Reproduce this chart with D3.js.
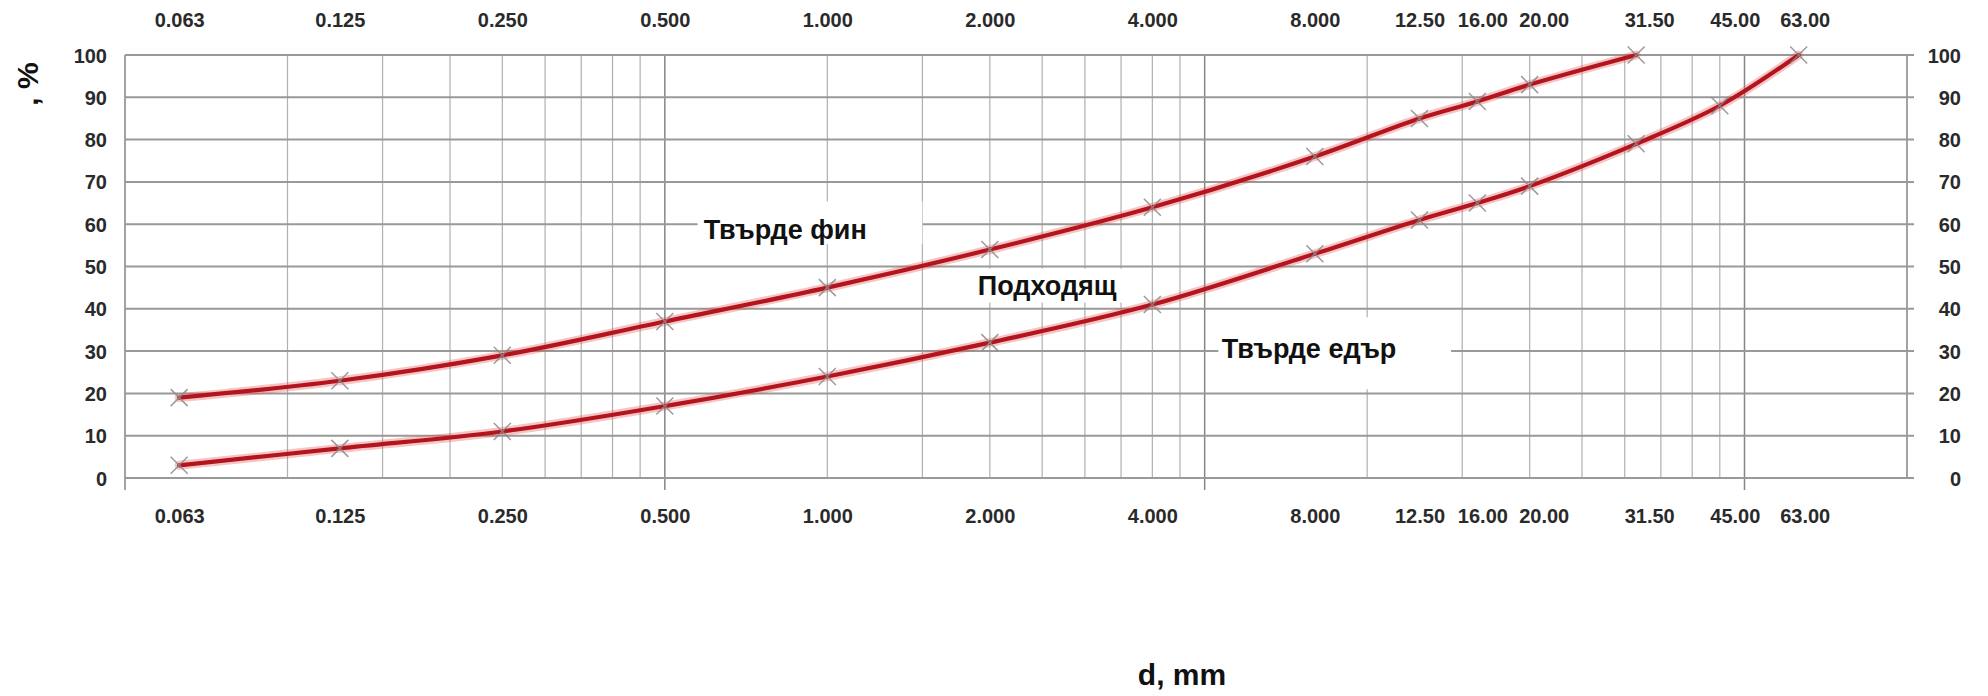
<!DOCTYPE html>
<html>
<head>
<meta charset="utf-8">
<script src="https://cdn.jsdelivr.net/npm/d3@7"></script>
<style>
  html, body { margin: 0; padding: 0; background: #fff; }
  svg { display: block; font-family: "Liberation Sans", Arial, sans-serif; }
  .tick-label { font-size: 20px; font-weight: bold; fill: #2a2a2a; }
  .axis-title { font-size: 30px; font-weight: bold; fill: #111; }
  .note { font-size: 27px; font-weight: bold; fill: #111; }
</style>
</head>
<body>
<svg id="chart" width="1988" height="696"></svg>
<script>
/* ───────────── DATA ───────────── */
// sieve sizes, mm
const sieves      = [0.063, 0.125, 0.25, 0.5, 1, 2, 4, 8, 12.5, 16, 20, 31.5, 45, 63];
const sieveLabels = ["0.063", "0.125", "0.250", "0.500", "1.000", "2.000", "4.000",
                     "8.000", "12.50", "16.00", "20.00", "31.50", "45.00", "63.00"];

// passing, %  (upper limit stops at 31.5 mm)
const fineLimit   = [19, 23, 29, 37, 45, 54, 64, 76, 85, 89, 93, 100];
const coarseLimit = [3, 7, 11, 17, 24, 32, 41, 53, 61, 65, 69, 79, 88, 100];

const yTicks      = [0, 10, 20, 30, 40, 50, 60, 70, 80, 90, 100];
const gridMinor   = [0.1, 0.15, 0.2, 0.25, 0.3, 0.35, 0.4, 0.45,
                     1, 1.5, 2, 2.5, 3, 3.5, 4, 4.5,
                     10, 15, 20, 25, 30, 35, 40, 45];
const gridMajor   = [0.5, 5, 50];
const xDomain     = [0.05, 100];

const noteTexts   = ["Твърде фин", "Подходящ", "Твърде едър"];

/* ───────────── SETUP ───────────── */
const svg = d3.select("#chart");
const W = +svg.attr("width"), H = +svg.attr("height");
const margin = { top: 55, right: 81, bottom: 218, left: 125 };

const x = d3.scaleLog().domain(xDomain).range([margin.left, W - margin.right]);
const y = d3.scaleLinear().domain([0, 100]).range([H - margin.bottom, margin.top]);

const x0 = x.range()[0], x1 = x.range()[1];
const yBot = y(0), yTop = y(100);

/* ───────────── GRID ───────────── */
const grid = svg.append("g");

grid.selectAll("line.vminor").data(gridMinor).join("line")
    .attr("x1", d => x(d)).attr("x2", d => x(d))
    .attr("y1", yTop).attr("y2", yBot)
    .attr("stroke", "#b0b0b0").attr("stroke-width", 1.2);

grid.selectAll("line.vmajor").data([xDomain[0], ...gridMajor]).join("line")
    .attr("x1", d => x(d)).attr("x2", d => x(d))
    .attr("y1", yTop).attr("y2", yBot + 12)
    .attr("stroke", "#858585").attr("stroke-width", 1.5);

grid.append("line")
    .attr("x1", x1).attr("x2", x1).attr("y1", yTop).attr("y2", yBot)
    .attr("stroke", "#858585").attr("stroke-width", 1.5);

grid.selectAll("line.h").data(yTicks).join("line")
    .attr("x1", x0).attr("x2", x1 + 7)
    .attr("y1", d => y(d)).attr("y2", d => y(d))
    .attr("stroke", "#999").attr("stroke-width", 2);

/* ───────────── NOTES (white boxes hide grid) ───────────── */
// box corners + text start, in data units so they follow the scales
const notes = [
  { text: noteTexts[0], box: [0.575, 1.5, 65.4, 55.3], at: [0.59, 56.6] },
  { text: noteTexts[1], box: [1.85, 3.6, 49.5, 41.5],  at: [1.9, 43.3] },
  { text: noteTexts[2], box: [5.3, 14.3, 38.0, 21.0],  at: [5.38, 28.4] }
];
const gNotes = svg.append("g");
notes.forEach(n => {
  gNotes.append("rect")
    .attr("x", x(n.box[0])).attr("width", x(n.box[1]) - x(n.box[0]))
    .attr("y", y(n.box[2])).attr("height", y(n.box[3]) - y(n.box[2]))
    .attr("fill", "#fff");
  gNotes.append("text").attr("class", "note")
    .attr("x", x(n.at[0])).attr("y", y(n.at[1]))
    .text(n.text);
});

/* ───────────── CURVES ───────────── */
const fineData   = fineLimit.map((v, i) => ({ x: sieves[i], y: v }));
const coarseData = coarseLimit.map((v, i) => ({ x: sieves[i], y: v }));

const line = d3.line()
    .x(d => x(d.x)).y(d => y(d.y))
    .curve(d3.curveCatmullRom.alpha(0.5));

const gLines = svg.append("g");
[fineData, coarseData].forEach(data => {
  gLines.append("path").datum(data)
    .attr("fill", "none").attr("stroke", "#e25a5a").attr("stroke-opacity", 0.35)
    .attr("stroke-width", 9).attr("stroke-linecap", "round").attr("d", line);
  gLines.append("path").datum(data)
    .attr("fill", "none").attr("stroke", "#b3141d")
    .attr("stroke-width", 4.2).attr("stroke-linecap", "round").attr("d", line);
});

// × markers
const s = 8.5;
const gMarks = svg.append("g")
    .attr("stroke", "#8a8a8a").attr("stroke-width", 1.5).attr("stroke-opacity", 0.85);
[...fineData, ...coarseData].forEach(d => {
  const cx = x(d.x), cy = y(d.y);
  gMarks.append("path")
    .attr("d", `M${cx - s},${cy - s}L${cx + s},${cy + s}M${cx - s},${cy + s}L${cx + s},${cy - s}`);
});

/* ───────────── AXES ───────────── */
const fmt = d => sieveLabels[sieves.indexOf(d)];
// the printed labels sit a little right of their sieve in the coarse end
const labelNudge = { 16: 5, 20: 14, 31.5: 13, 45: 15, 63: 6 };

const axTop = svg.append("g").attr("transform", "translate(0,20)")
    .call(d3.axisTop(x).tickValues(sieves).tickFormat(fmt).tickSize(0).tickPadding(0));
const axBot = svg.append("g").attr("transform", "translate(0,516)")
    .call(d3.axisBottom(x).tickValues(sieves).tickFormat(fmt).tickSize(0).tickPadding(0));
const axLeft = svg.append("g").attr("transform", "translate(107,0)")
    .call(d3.axisLeft(y).tickValues(yTicks).tickSize(0).tickPadding(0));
const axRight = svg.append("g").attr("transform", "translate(1961,0)")
    .call(d3.axisLeft(y).tickValues(yTicks).tickSize(0).tickPadding(0));

[axTop, axBot, axLeft, axRight].forEach(g => {
  g.select(".domain").remove();
  g.selectAll("text")
    .attr("class", "tick-label")
    .attr("font-family", null).attr("font-size", null)
    .attr("fill", null);
  g.attr("font-family", null).attr("font-size", null);
});
[axTop, axBot].forEach(g => g.selectAll("text")
    .attr("y", 0).attr("dy", "0.35em")
    .attr("dx", d => labelNudge[d] || 0));
[axLeft, axRight].forEach(g => g.selectAll("text").attr("x", 0).attr("dy", "0.35em"));

/* ───────────── TITLES ───────────── */
svg.append("text").attr("class", "axis-title")
    .attr("x", 1182).attr("y", 685).attr("text-anchor", "middle")
    .text("d, mm");

svg.append("text").attr("class", "axis-title")
    .attr("transform", "translate(38,84) rotate(-90)")
    .attr("text-anchor", "middle")
    .text(", %");
</script>
</body>
</html>
